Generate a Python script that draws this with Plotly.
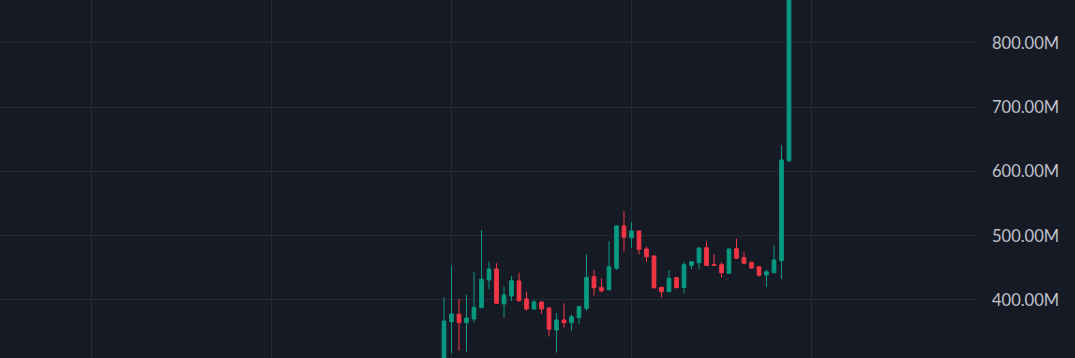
import plotly.graph_objects as go

# candle index (one per period)
idx = list(range(47))

opens = [290, 366.2, 377.7, 364.7, 370.4, 388.0, 431.1, 448.2, 393.8, 406.2,
         429.6, 401.6, 386.0, 396.9, 387.5, 353.3, 368.9, 364.7, 372.5, 387.1,
         436.3, 419.8, 416.0, 449.3, 515.2, 497.0, 507.4, 479.4, 468.5, 419.8,
         412.9, 434.7, 419.5, 453.7, 458.1, 481.4, 455.3, 454.9, 441.6, 479.8,
         465.8, 458.7, 451.8, 438.9, 442.5, 461.2, 616.8]
highs = [404.2, 453.4, 401.6, 407.8, 444.0, 508.9, 459.6, 457.1, 420.7, 437.8,
         442.5, 412.9, 400.0, 398.0, 388.5, 379.3, 394.9, 377.7, 390.7, 471.1,
         446.7, 433.8, 491.8, 516.7, 538.5, 520.9, 507.4, 483.0, 468.5, 420.5,
         446.7, 436.3, 458.7, 460.7, 481.7, 490.7, 471.3, 458.7, 480.2, 495.4,
         475.2, 459.5, 452.5, 446.7, 485.6, 641.2, 912.0]
lows = [280, 317.0, 321.1, 319.5, 365.3, 387.5, 416.7, 393.8, 372.5, 398.4,
        397.4, 383.3, 384.4, 378.2, 342.9, 318.0, 356.9, 352.2, 362.2, 382.9,
        406.7, 411.4, 414.8, 446.7, 475.2, 481.4, 471.1, 459.6, 417.9, 403.6,
        412.5, 418.7, 410.4, 447.8, 448.2, 452.9, 453.4, 435.0, 440.5, 463.8,
        455.6, 449.0, 436.3, 419.8, 442.0, 432.7, 614.0]
closes = [367.3, 378.2, 364.7, 372.0, 388.6, 432.2, 448.2, 394.9, 407.8, 430.0,
          398.9, 386.0, 396.9, 386.0, 354.4, 368.9, 364.7, 374.0, 389.6, 435.3,
          419.1, 414.5, 451.8, 515.2, 497.6, 507.4, 478.9, 467.4, 419.1, 412.9,
          433.8, 419.1, 454.9, 459.6, 480.9, 453.7, 453.7, 442.5, 479.4, 464.9,
          457.1, 449.8, 438.4, 444.0, 462.3, 617.9, 905.0]

y_ticks = [400, 500, 600, 700, 800]
y_tick_text = ["400.00M", "500.00M", "600.00M", "700.00M", "800.00M"]
x_grid = [-47, -23, 1, 25, 49]

BG = "#161a25"
GRID = "#252935"
UP = "#089981"
DOWN = "#f23645"

fig = go.Figure(go.Candlestick(
    x=idx, open=opens, high=highs, low=lows, close=closes,
    increasing=dict(line=dict(color=UP, width=1), fillcolor=UP),
    decreasing=dict(line=dict(color=DOWN, width=1), fillcolor=DOWN),
    whiskerwidth=0, hoverinfo="skip",
))

fig.update_layout(
    width=1075, height=358,
    margin=dict(l=0, r=97, t=0, b=0),
    paper_bgcolor=BG, plot_bgcolor=BG,
    showlegend=False,
    boxgap=0.3,
    font=dict(family="Lato, sans-serif", size=16, color="#b2b5be"),
    xaxis=dict(
        range=[-59.2, 71.2], rangeslider=dict(visible=False),
        tickvals=x_grid, showticklabels=False, showgrid=True,
        gridcolor=GRID, gridwidth=1, zeroline=False, showline=False, ticks="",
    ),
    yaxis=dict(
        side="right", range=[309.7, 866.9],
        tickvals=y_ticks, ticktext=y_tick_text,
        showgrid=True, gridcolor=GRID, gridwidth=1,
        zeroline=False, showline=False, ticks="",
        ticklabelstandoff=13,
        tickfont=dict(family="Lato, sans-serif", size=16.5, color="#bfc2ca"),
    ),
)

fig.write_html("out.html")
